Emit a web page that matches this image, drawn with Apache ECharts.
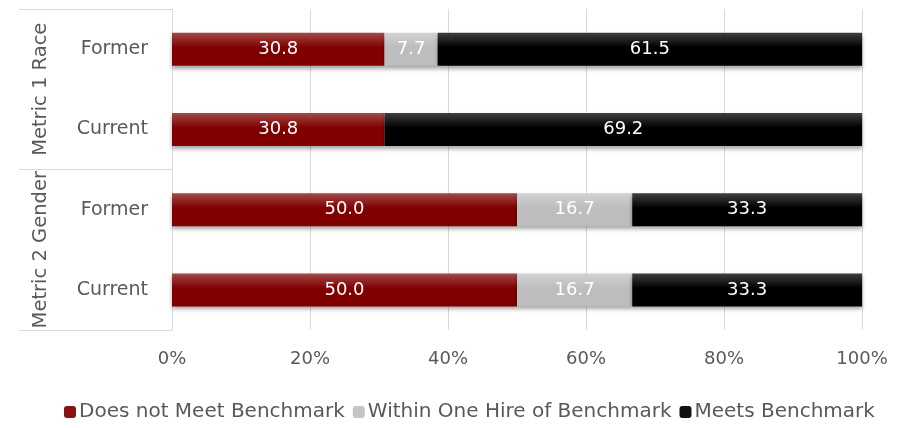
<!DOCTYPE html>
<html>
<head>
<meta charset="utf-8">
<script src="https://cdn.jsdelivr.net/npm/echarts@6/dist/echarts.min.js"></script>
<style>
  html, body { margin: 0; padding: 0; background: #fff; }
  #chart { width: 909px; height: 428px; }
</style>
</head>
<body>
<div id="chart"></div>
<script>
const rows = ["Former", "Current", "Former", "Current"];
const groups = ["Metric 1 Race", "Metric 2 Gender"];
const seriesNames = ["Does not Meet Benchmark", "Within One Hire of Benchmark", "Meets Benchmark"];
const doesNotMeet = [30.8, 30.8, 50.0, 50.0];
const withinOne = [7.7, 0, 16.7, 16.7];
const meets = [61.5, 69.2, 33.3, 33.3];

const font = "DejaVu Sans";
const textGrey = "#595959";

function grad(top, bottom) {
  return new echarts.graphic.LinearGradient(0, 0, 0, 1, [
    { offset: 0, color: top },
    { offset: 0.45, color: bottom },
    { offset: 1, color: bottom }
  ]);
}

const fills = [grad("#a34a4a", "#800000"), grad("#d2d2d2", "#bdbdbd"), grad("#404040", "#000000")];
const legendColors = ["#8b1010", "#c4c4c4", "#111111"];

function barSeries(name, values, i) {
  return {
    name: name,
    type: "bar",
    stack: "total",
    barWidth: 33,
    data: values,
    itemStyle: {
      color: fills[i],
      shadowBlur: 4,
      shadowOffsetY: 3,
      shadowColor: "rgba(0,0,0,0.35)"
    },
    label: {
      show: true,
      position: "inside",
      color: "#fff",
      fontFamily: font,
      fontSize: 18,
      formatter: p => (p.value ? p.value.toFixed(1) : "")
    }
  };
}

const chart = echarts.init(document.getElementById("chart"));
chart.setOption({
  animation: false,
  grid: { left: 172, right: 47, top: 9, bottom: 98 },
  legend: {
    bottom: 1,
    left: 59,
    itemWidth: 12,
    itemHeight: 12,
    itemGap: 8,
    data: seriesNames.map((n, i) => ({ name: n, itemStyle: { color: legendColors[i] } })),
    textStyle: { color: textGrey, fontFamily: font, fontSize: 20, padding: [0, 0, 0, -2] }
  },
  xAxis: {
    type: "value",
    min: 0,
    max: 100,
    interval: 20,
    axisLine: { show: false },
    axisTick: { show: false },
    splitLine: { lineStyle: { color: "#d9d9d9", width: 1 } },
    axisLabel: {
      formatter: "{value}%",
      color: textGrey,
      fontFamily: font,
      fontSize: 18,
      margin: 20
    }
  },
  yAxis: [
    {
      type: "category",
      inverse: true,
      data: rows,
      axisLine: { show: false },
      axisTick: { show: false },
      axisLabel: { interval: 0, color: textGrey, fontFamily: font, fontSize: 19, margin: 24 }
    },
    {
      type: "category",
      inverse: true,
      position: "left",
      data: groups,
      axisLine: { show: true, lineStyle: { color: "#d9d9d9" } },
      axisTick: { show: true, interval: 0, length: 153, lineStyle: { color: "#d9d9d9" } },
      axisLabel: {
        interval: 0,
        rotate: 90,
        color: textGrey,
        fontFamily: font,
        fontSize: 19.5,
        margin: 121
      }
    }
  ],
  series: [
    barSeries(seriesNames[0], doesNotMeet, 0),
    barSeries(seriesNames[1], withinOne, 1),
    barSeries(seriesNames[2], meets, 2)
  ]
});
</script>
</body>
</html>
